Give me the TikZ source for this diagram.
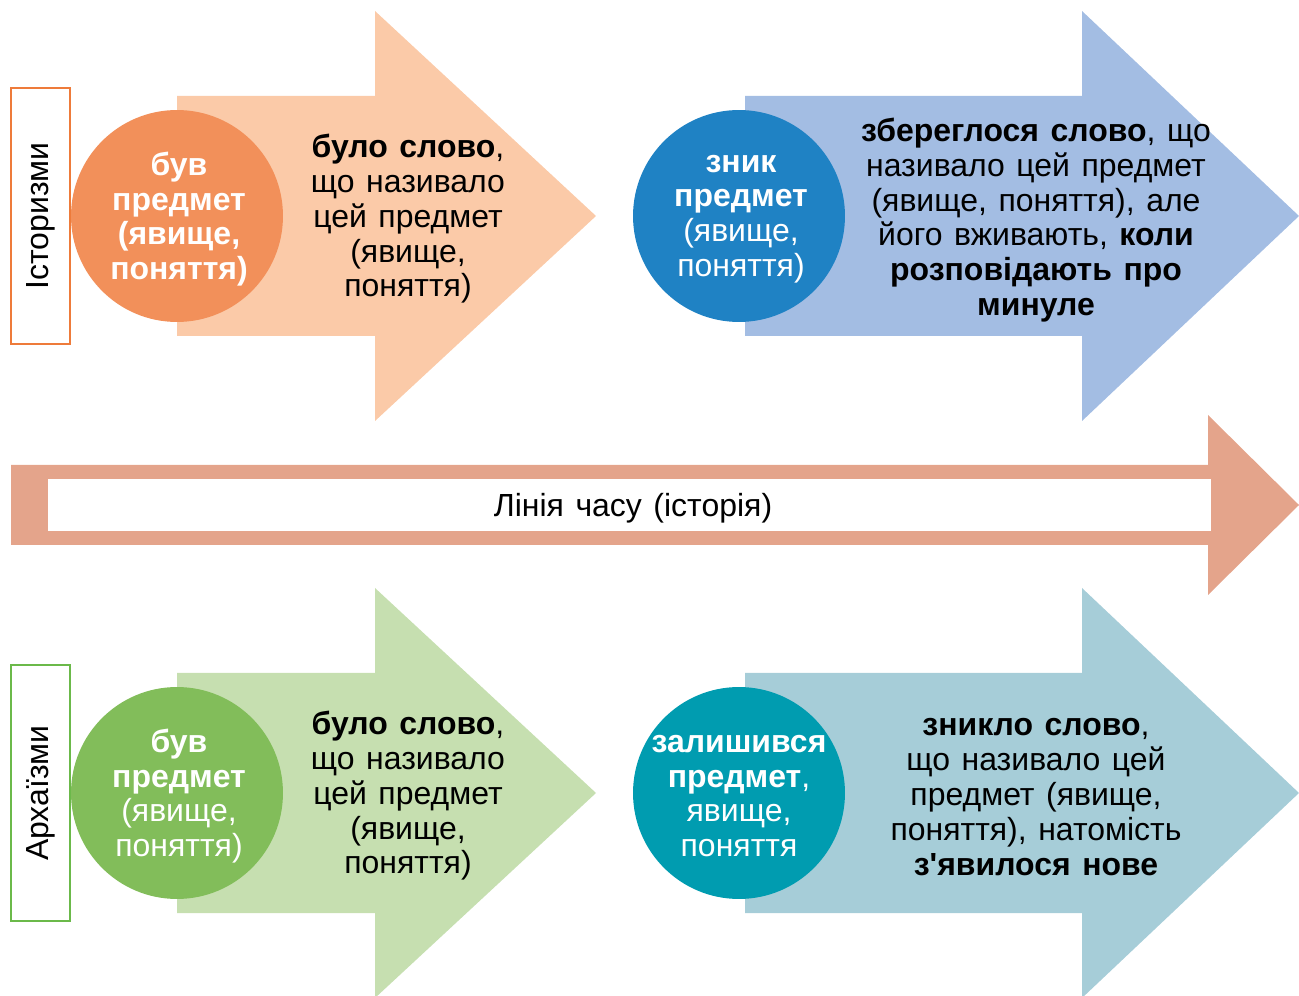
\documentclass[tikz,border=0pt]{standalone}
\usepackage{fontspec}
\setmainfont{Liberation Sans}[WordSpace=1.3]
\definecolor{orangedark}{HTML}{F2905A}
\definecolor{orangelight}{HTML}{FBCAA8}
\definecolor{orangeline}{HTML}{EE7B3A}
\definecolor{bluedark}{HTML}{1F82C4}
\definecolor{bluelight}{HTML}{A3BDE3}
\definecolor{greendark}{HTML}{82BD5A}
\definecolor{greenlight}{HTML}{C6DFB0}
\definecolor{greenline}{HTML}{6BB94A}
\definecolor{tealdark}{HTML}{009CB0}
\definecolor{teallight}{HTML}{A6CDD8}
\definecolor{timeline}{HTML}{E4A48B}

% fat arrow: body left, head base, tip, centre line, colour
\newcommand{\fatarrow}[5]{%
  \fill[#5] (#1,{#4-120}) -- (#2,{#4-120}) -- (#2,{#4-205}) -- (#3,#4)
    -- (#2,{#4+205}) -- (#2,{#4+120}) -- (#1,{#4+120}) -- cycle;}

\begin{document}
\begin{tikzpicture}[x=0.02cm,y=-0.02cm,
  txt/.style={align=center,font=\fontsize{18.2}{19.8}\selectfont},
  disc/.style={circle,minimum size=4.24cm,inner sep=0pt},
  disctxt/.style={txt,text=white},
  tagbox/.style={draw,line width=1.2pt,rotate=90,minimum width=5.12cm,
    minimum height=1.18cm,inner sep=0pt,txt}]
\useasboundingbox (0,0) rectangle (1299,996);

% arrows
\fatarrow{177}{375}{596}{216}{orangelight}
\fatarrow{745}{1082}{1299}{216}{bluelight}
\fatarrow{177}{375}{596}{793}{greenlight}
\fatarrow{745}{1082}{1299}{793}{teallight}

% time line
\fill[timeline] (11,465) -- (1208,465) -- (1208,415) -- (1299,505)
  -- (1208,595) -- (1208,545) -- (11,545) -- cycle;
\fill[white] (48,479) rectangle (1211,531);
\node[txt] (time) at (633,508) {Лінія часу (історія)};

% row labels
\node[tagbox,draw=orangeline] (hist) at (40.5,216) {Історизми};
\node[tagbox,draw=greenline] (arch) at (40.5,793) {Архаїзми};

% circles
\node[disc,fill=orangedark] (hist1) at (177,216) {};
\node[disc,fill=bluedark] (hist2) at (739,216) {};
\node[disc,fill=greendark] (arch1) at (177,793) {};
\node[disc,fill=tealdark] (arch2) at (739,793) {};
\node[disctxt] (hist1t) at (179,219)
  {\textbf{був}\\\textbf{предмет}\\\textbf{(явище,}\\\textbf{поняття)}};
\node[disctxt] (hist2t) at (741,219)
  {\textbf{зник}\\\textbf{предмет}\\(явище,\\поняття)};
\node[disctxt] (arch1t) at (179,796)
  {\textbf{був}\\\textbf{предмет}\\(явище,\\поняття)};
\node[disctxt] (arch2t) at (739,796)
  {\textbf{залишився}\\\textbf{предмет},\\явище,\\поняття};

% texts in arrows
\node[txt] (histw1) at (408,219)
  {\textbf{було слово},\\що називало\\цей предмет\\(явище,\\поняття)};
\node[txt] (histw2) at (1036,220)
  {\textbf{збереглося слово}, що\\називало цей предмет\\(явище, поняття), але\\
   його вживають, \textbf{коли}\\\textbf{розповідають про}\\\textbf{минуле}};
\node[txt] (archw1) at (408,796)
  {\textbf{було слово},\\що називало\\цей предмет\\(явище,\\поняття)};
\node[txt] (archw2) at (1036,797)
  {\textbf{зникло слово},\\що називало цей\\предмет (явище,\\поняття), натомість\\
   \textbf{з\textquotesingle явилося нове}};
\end{tikzpicture}
\end{document}
